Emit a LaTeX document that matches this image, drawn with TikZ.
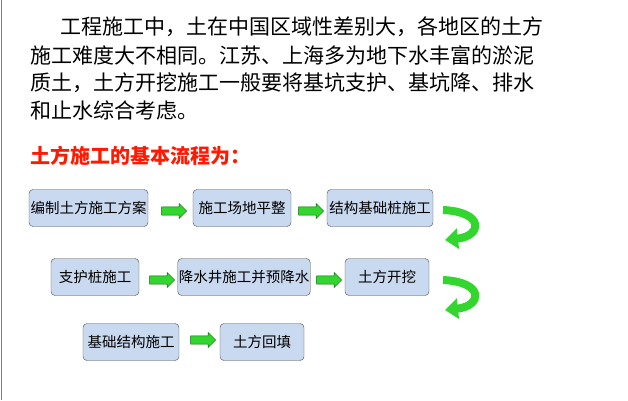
\documentclass[tikz,border=0pt]{standalone}
\usepackage{fontspec}
\newfontfamily\cjk{Noto Sans CJK SC}
\usetikzlibrary{shapes.arrows,arrows.meta}
\definecolor{boxblue}{HTML}{C9D9F0}
\definecolor{flowgreen}{HTML}{33D62E}
\tikzset{
  stepbox/.style={draw=black!70, fill=boxblue, rounded corners=4pt, minimum height=37pt, font=\cjk\fontsize{14.5}{14.5}\selectfont, inner sep=1pt},
  flowarrow/.style={single arrow, draw=green!40!black, fill=flowgreen, minimum height=25pt, minimum width=15pt, single arrow head extend=3pt, inner xsep=0pt, inner ysep=3.5pt},
  turnarrow/.style={line width=8pt, flowgreen, -{Triangle[length=13pt,width=20pt]}},
  textline/.style={anchor=west, font=\cjk\fontsize{21}{21}\selectfont, inner sep=0pt}
}
\begin{document}
\begin{tikzpicture}[x=1pt,y=-1pt]
\useasboundingbox (0,0) rectangle (628,400);
\draw[black!50] (1,0) -- (1,400);
% paragraph
\node[textline] (l1) at (60,27) {工程施工中，土在中国区域性差别大，各地区的土方};
\node[textline] (l2) at (30,55) {施工难度大不相同。江苏、上海多为地下水丰富的淤泥};
\node[textline] (l3) at (30,83) {质土，土方开挖施工一般要将基坑支护、基坑降、排水};
\node[textline] (l4) at (30,110) {和止水综合考虑。};
\node[textline, text=red!80!orange, font=\cjk\bfseries\fontsize{20}{20}\selectfont] (head) at (30,156) {土方施工的基本流程为：};
% boxes
\node[stepbox, minimum width=119pt] (b1) at (88.5,208) {编制土方施工方案};
\node[stepbox, minimum width=98pt] (b2) at (242,208) {施工场地平整};
\node[stepbox, minimum width=106pt] (b3) at (380,208) {结构基础桩施工};
\node[stepbox, minimum width=88pt] (b4) at (95,277) {支护桩施工};
\node[stepbox, minimum width=128pt] (b5) at (244,277) {降水井施工并预降水};
\node[stepbox, minimum width=84pt] (b6) at (387,277) {土方开挖};
\node[stepbox, minimum width=96pt] (b7) at (131,342) {基础结构施工};
\node[stepbox, minimum width=84pt] (b8) at (262,342) {土方回填};
% straight arrows
\node[flowarrow] (a1) at (172,211) {};
\node[flowarrow] (a2) at (309,211) {};
\node[flowarrow] (a3) at (160,280) {};
\node[flowarrow] (a4) at (327,280) {};
\node[flowarrow] (a5) at (201,340) {};
% turning arrows
\coordinate (t1) at (443,210);
\coordinate (t2) at (445,240);
\coordinate (t3) at (443,280);
\coordinate (t4) at (445,310);
\draw[turnarrow] (t1) .. controls (485,212) and (482,236) .. (t2);
\draw[turnarrow] (t3) .. controls (485,282) and (482,306) .. (t4);
\end{tikzpicture}
\end{document}
